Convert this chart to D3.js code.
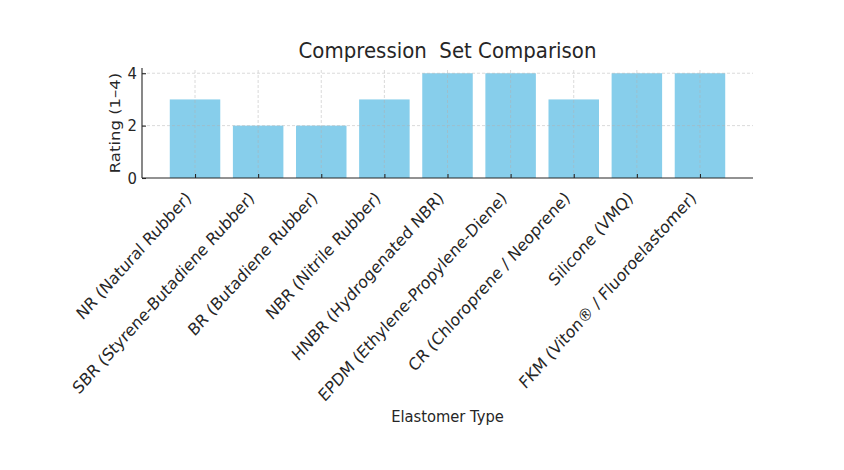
<!DOCTYPE html>
<html>
<head>
<meta charset="utf-8">
<script src="https://cdn.jsdelivr.net/npm/d3@7"></script>
<style>
  body { margin: 0; background: #fff; }
  svg text { font-family: "DejaVu Sans", sans-serif; fill: #262626; }
</style>
</head>
<body>
<svg id="chart" width="844" height="470"></svg>
<script>
// chart data
const categories = [
    "NR (Natural Rubber)",
    "SBR (Styrene-Butadiene Rubber)",
    "BR (Butadiene Rubber)",
    "NBR (Nitrile Rubber)",
    "HNBR (Hydrogenated NBR)",
    "EPDM (Ethylene-Propylene-Diene)",
    "CR (Chloroprene / Neoprene)",
    "Silicone (VMQ)",
    "FKM (Viton® / Fluoroelastomer)"
]
const ratings = [3, 2, 2, 3, 4, 4, 3, 4, 4]
const yTicks = [0, 2, 4]

const margin = {top: 68, right: 91, bottom: 292, left: 142}
const width = 844
const height = 470
const sx = 0.9 // the text in the picture is a bit narrow

const svg = d3.select("#chart")

// bar centers at integer positions, matplotlib style margins
const x = d3.scaleLinear()
    .domain([-0.84, categories.length - 1 + 0.84])
    .range([margin.left, width - margin.right])

const y = d3.scaleLinear()
    .domain([0, 4.2])
    .range([height - margin.bottom, margin.top])

const barW = x(0.8) - x(0)

svg.append("g")
    .selectAll("rect")
    .data(ratings)
    .enter().append("rect")
    .attr("x", (d, i) => x(i) - barW / 2)
    .attr("y", d => y(d))
    .attr("width", barW)
    .attr("height", d => y(0) - y(d))
    .attr("fill", "#87ceeb")

// grid sits on top of the bars
const grid = svg.append("g")
    .attr("stroke", "#b0b0b0")
    .attr("stroke-opacity", 0.6)
    .attr("stroke-width", 0.8)
    .attr("stroke-dasharray", "3,2")

grid.selectAll(".hgrid")
    .data(yTicks.filter(t => t > 0))
    .enter().append("line")
    .attr("x1", x.range()[0]).attr("x2", x.range()[1])
    .attr("y1", d => y(d)).attr("y2", d => y(d))

grid.selectAll(".vgrid")
    .data(categories)
    .enter().append("line")
    .attr("x1", (d, i) => x(i)).attr("x2", (d, i) => x(i))
    .attr("y1", y.range()[0]).attr("y2", y.range()[1])

// y axis, ticks pointing inward
const yAxis = g => {
    g.attr("transform", `translate(${margin.left},0)`)
        .call(d3.axisLeft(y).tickValues(yTicks).tickSize(-4).tickFormat(d3.format("d")))
        .call(g => g.select(".domain").attr("d", `M0,${y.range()[0]}V${y.range()[1]}`))
    g.selectAll("line, path").attr("stroke", "#262626").attr("stroke-width", 1.1)
    g.selectAll("text")
        .attr("font-size", 16.5)
        .attr("font-family", "DejaVu Sans")
        .attr("fill", "#262626")
        .attr("x", 0)
        .attr("transform", `translate(-5,0) scale(${sx},1)`)
}

// x axis with rotated labels
const xAxis = g => {
    g.attr("transform", `translate(0,${y(0)})`)
        .call(d3.axisBottom(x).tickValues(d3.range(categories.length)).tickSize(-4).tickFormat(i => categories[i]))
        .call(g => g.select(".domain").attr("d", `M${x.range()[0]},0H${x.range()[1]}`))
    g.selectAll("line, path").attr("stroke", "#262626").attr("stroke-width", 1.1)
    g.selectAll("text")
        .attr("font-size", 17)
        .attr("font-family", "DejaVu Sans")
        .attr("fill", "#262626")
        .attr("text-anchor", "end")
        .attr("dominant-baseline", "central")
        .attr("y", 0).attr("dy", 0)
        .attr("transform", `translate(-7,17) scale(${sx},1) rotate(-45)`)
}

svg.append("g").call(yAxis)
svg.append("g").call(xAxis)

svg.append("text")
    .attr("transform", `translate(${(x.range()[0] + x.range()[1]) / 2},58) scale(0.92,1)`)
    .attr("text-anchor", "middle")
    .attr("font-size", 21.5)
    .style("white-space", "pre")
    .text("Compression  Set Comparison")

svg.append("text")
    .attr("transform", `translate(120,${(y.range()[0] + y.range()[1]) / 2}) scale(${sx},1) rotate(-90)`)
    .attr("text-anchor", "middle")
    .attr("font-size", 16.5)
    .text("Rating (1–4)")

svg.append("text")
    .attr("transform", `translate(${(x.range()[0] + x.range()[1]) / 2},422) scale(0.92,1)`)
    .attr("text-anchor", "middle")
    .attr("font-size", 16)
    .text("Elastomer Type")
</script>
</body>
</html>
